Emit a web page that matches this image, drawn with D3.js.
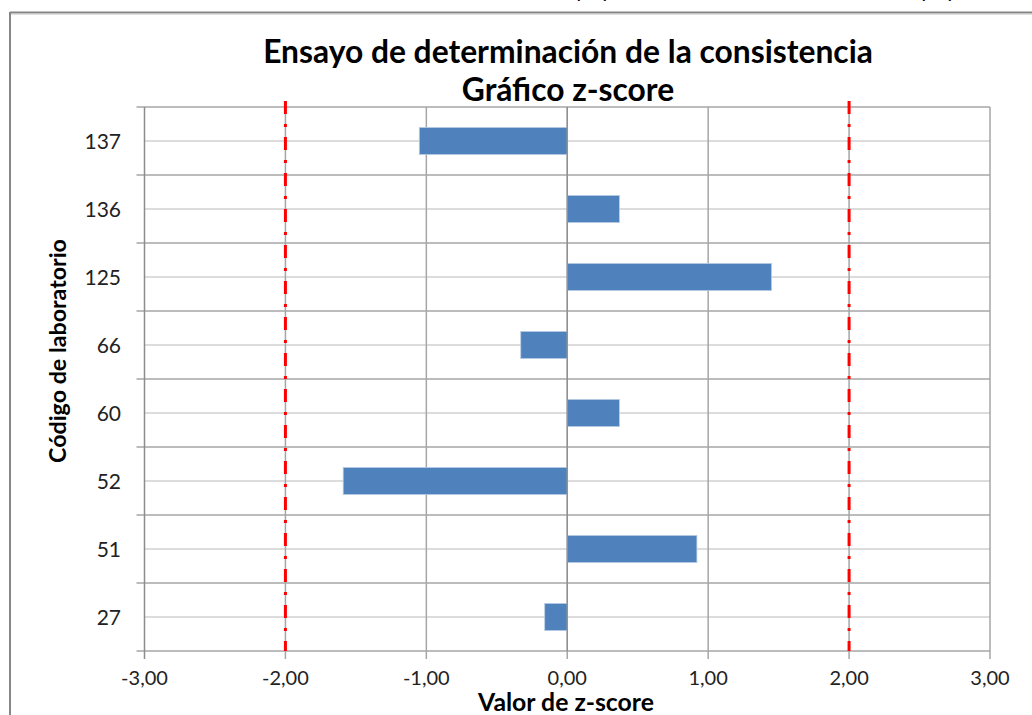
<!DOCTYPE html>
<html><head><meta charset="utf-8">
<script src="https://cdn.jsdelivr.net/npm/d3@7"></script>
<style>body{margin:0;background:#fff}svg{display:block}</style>
</head><body>
<svg id="c" width="1032" height="715"></svg>
<script>
const categories = ["137","136","125","66","60","52","51","27"];
const zscores = [-1.05, 0.37, 1.45, -0.33, 0.37, -1.59, 0.92, -0.16];
const xTicks = [-3,-2,-1,0,1,2,3];
const limits = [-2, 2];
const titleLines = ["Ensayo de determinación de la consistencia","Gráfico z-score"];
const xTitle = "Valor de z-score";
const yTitle = "Código de laboratorio";

const svg = d3.select("#c");
const FONT = "Lato, 'Open Sans', sans-serif";
const L = 144.5, R = 990, T = 107, B = 651;
const x = d3.scaleLinear().domain([-3,3]).range([L,R]);
const yb = d3.scaleBand().domain(categories).range([T,B]).padding(0);
const y = d3.scaleBand().domain(categories).range([T,B]).paddingInner(0.6).paddingOuter(0.3);
const step = yb.step();

function fit(sel, target){
  const n = sel.node(); const fs = parseFloat(sel.attr("font-size"));
  const w = n.getComputedTextLength();
  sel.attr("font-size", fs*target/w);
}

// frame
svg.append("line").attr("x1",10).attr("x2",1032).attr("y1",12.5).attr("y2",12.5).attr("stroke","#868686").attr("stroke-width",2);
svg.append("line").attr("x1",11).attr("x2",1032).attr("y1",14.5).attr("y2",14.5).attr("stroke","#e0e0e0").attr("stroke-width",1);
svg.append("line").attr("x1",10).attr("x2",10).attr("y1",12).attr("y2",715).attr("stroke","#868686").attr("stroke-width",2);

// cut-off text at top of the picture (only descenders visible, as in the reference)
[["p",582],["p",608],["p",927],["p",953]].forEach(([t,px])=>{
  svg.append("text").attr("x",px).attr("y",-2).attr("text-anchor","middle").attr("font-family",FONT).attr("font-size",20).attr("fill","#000").text(t);
});

// minor horizontal gridlines (category centers)
svg.append("g").selectAll("line").data(categories).join("line")
  .attr("x1",L).attr("x2",R)
  .attr("y1",d=>yb(d)+step/2).attr("y2",d=>yb(d)+step/2)
  .attr("stroke","#d0d0d0").attr("stroke-width",1.5);

// major horizontal gridlines (category boundaries) + ticks
const bounds = categories.map(c=>yb(c)).concat([B]);
svg.append("g").selectAll("line").data(bounds).join("line")
  .attr("x1",L-8).attr("x2",R)
  .attr("y1",d=>d).attr("y2",d=>d)
  .attr("stroke","#a6a6a6").attr("stroke-width",1.5);

// vertical gridlines + ticks
svg.append("g").selectAll("line").data(xTicks).join("line")
  .attr("x1",d=>x(d)).attr("x2",d=>x(d))
  .attr("y1",T).attr("y2",B+8)
  .attr("stroke",d=>d===-3?"#8c8c8c":"#a6a6a6").attr("stroke-width",1.5);

// bars
svg.append("g").selectAll("rect").data(categories).join("rect")
  .attr("x",(d,i)=>x(Math.min(0,zscores[i])))
  .attr("width",(d,i)=>Math.abs(x(zscores[i])-x(0)))
  .attr("y",d=>y(d)).attr("height",y.bandwidth())
  .attr("fill","#4f81bd").attr("stroke","#b9cde5").attr("stroke-width",0.8);

// zero axis line over bars
svg.append("line").attr("x1",x(0)).attr("x2",x(0)).attr("y1",T).attr("y2",B).attr("stroke","#8c8c8c").attr("stroke-width",1.2);

// limit lines
svg.append("g").selectAll("line").data(limits).join("line")
  .attr("x1",d=>x(d)).attr("x2",d=>x(d))
  .attr("y1",101).attr("y2",B)
  .attr("stroke","#ff0000").attr("stroke-width",3)
  .attr("stroke-dasharray","13,10,3,10");

// y tick labels
svg.append("g").selectAll("text").data(categories).join("text")
  .attr("x",121).attr("y",d=>yb(d)+step/2).attr("dy","0.36em")
  .attr("text-anchor","end").attr("font-family",FONT).attr("font-size",21).attr("fill","#222")
  .text(d=>d);

// x tick labels
const fmt = v => d3.format(".2f")(v).replace("−","-").replace(".",",");
svg.append("g").selectAll("text").data(xTicks).join("text")
  .attr("x",d=>x(d)).attr("y",685)
  .attr("text-anchor","middle").attr("font-family",FONT).attr("font-size",20).attr("fill","#222")
  .text(d=>fmt(d));

// titles
const t1 = svg.append("text").attr("x",568).attr("y",63).attr("text-anchor","middle")
  .attr("font-family",FONT).attr("font-weight","bold").attr("font-size",26).attr("fill","#000").text(titleLines[0]);
fit(t1, 610);
const t2 = svg.append("text").attr("x",568).attr("y",101).attr("text-anchor","middle")
  .attr("font-family",FONT).attr("font-weight","bold").attr("font-size",26).attr("fill","#000").text(titleLines[1]);
t2.attr("font-size", t1.attr("font-size"));

const xt = svg.append("text").attr("x",566).attr("y",711).attr("text-anchor","middle")
  .attr("font-family",FONT).attr("font-weight","bold").attr("font-size",20).attr("fill","#000").text(xTitle);
fit(xt, 176);
const yt = svg.append("text").attr("transform","translate(66,351) rotate(-90)").attr("text-anchor","middle")
  .attr("font-family",FONT).attr("font-weight","bold").attr("font-size",20).attr("fill","#000").text(yTitle);
fit(yt, 224);
</script>
</body></html>
